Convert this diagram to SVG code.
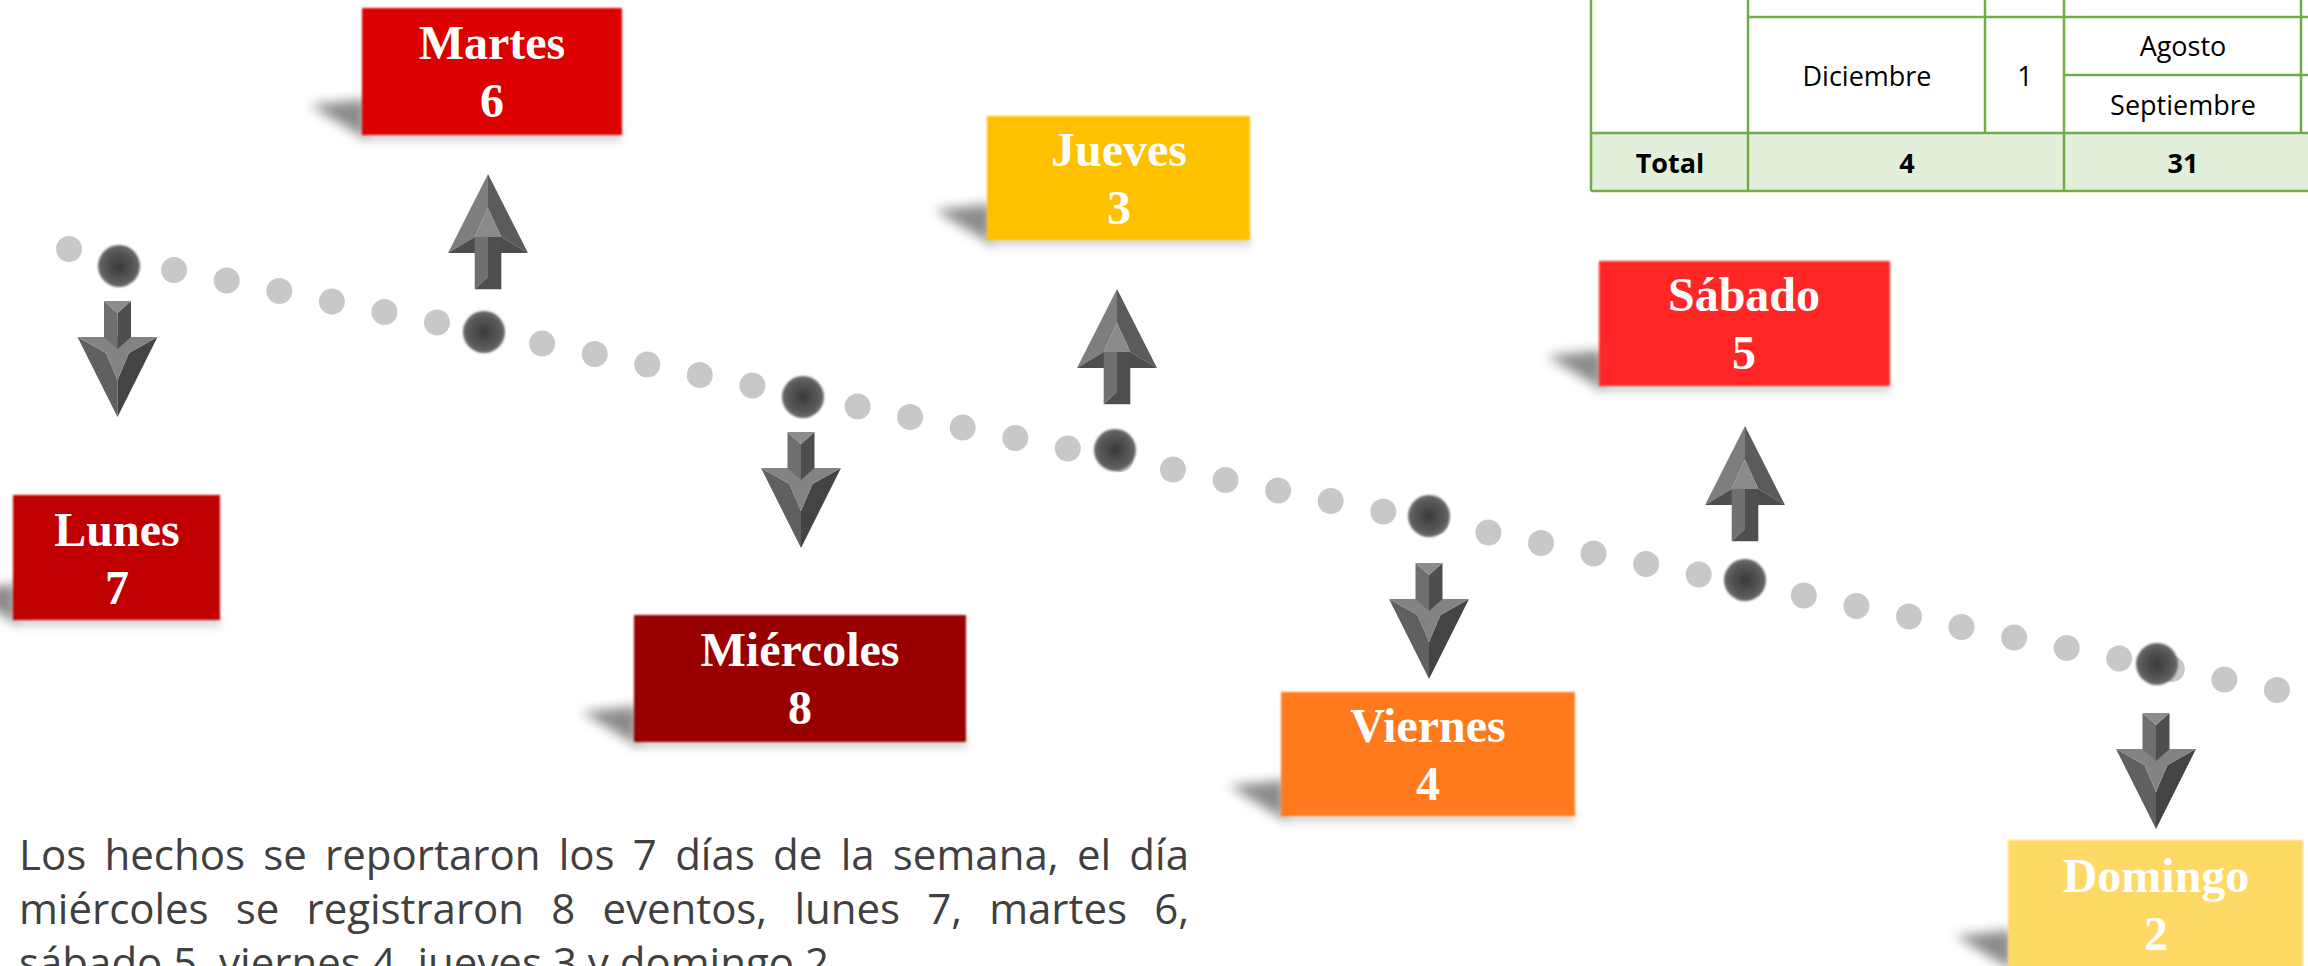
<svg xmlns="http://www.w3.org/2000/svg" xmlns:xlink="http://www.w3.org/1999/xlink" width="2308" height="966" viewBox="0 0 2308 966">
<style>
.box{filter:url(#soft)}
.lbl{font-family:"Liberation Serif","Times New Roman",serif;font-weight:bold;font-size:48px;fill:#ffffff;text-anchor:middle}
.shw{fill:#5a5a5a;opacity:0.7;filter:url(#blur6)}
.shw2{fill:#8a8a8a;opacity:0.35;filter:url(#blur4)}
.ld{fill:#c8c8c8}
.dd{fill:url(#dg);filter:url(#soft)}
.tl{stroke:#70ad47;stroke-width:2.5;fill:none}
.tt{font-family:"Open Sans","Liberation Sans",sans-serif;font-size:27px;fill:#000;text-anchor:middle}
.tb{font-weight:bold}
.body{font-family:"Open Sans","Liberation Sans",sans-serif;font-size:42px;fill:#404040}
</style>
<defs>
<filter id="soft" x="-10%" y="-10%" width="120%" height="120%"><feGaussianBlur stdDeviation="1"/></filter>
<filter id="blur6" x="-50%" y="-100%" width="200%" height="300%"><feGaussianBlur stdDeviation="6"/></filter>
<filter id="blur4" x="-10%" y="-200%" width="120%" height="500%"><feGaussianBlur stdDeviation="4"/></filter>
<radialGradient id="dg" cx="0.5" cy="0.5" r="0.5">
<stop offset="0" stop-color="#3a3a3a"/>
<stop offset="0.7" stop-color="#575757"/>
<stop offset="1" stop-color="#6a6a6a"/>
</radialGradient>
<g id="adown">
<polygon points="-40,36 -11.5,52 0,79 0,116" fill="#606060"/>
<polygon points="40,36 11.5,52 0,79 0,116" fill="#444444"/>
<polygon points="-40,36 40,36 11.5,52 0,79 -11.5,52" fill="#838383"/>
<polygon points="-13.5,0 0,12 0,48 -13.5,36" fill="#6f6f6f"/>
<polygon points="13.5,0 13.5,36 0,48 0,12" fill="#4e4e4e"/>
<polygon points="-13.5,0 13.5,0 0,12" fill="#8c8c8c"/>
</g>
<g id="aup">
<polygon points="-40,79 0,0 0,34 -13.3,63" fill="#7e7e7e"/>
<polygon points="40,79 0,0 0,34 13.3,63" fill="#5b5b5b"/>
<polygon points="-13.3,63 0,34 13.3,63" fill="#8a8a8a"/>
<polygon points="-40,79 -13.3,63 13.3,63 40,79" fill="#4d4d4d"/>
<polygon points="-13.3,63 0,63 0,102.7 -13.3,115.3" fill="#707070"/>
<polygon points="0,63 13.3,63 13.3,115.3 -13.3,115.3 0,102.7" fill="#4f4f4f"/>
</g>
</defs>
<rect width="2308" height="966" fill="#ffffff"/>

<g id="table">
<rect x="1591" y="133" width="717" height="58" fill="#e2efda"/>
<line class="tl" x1="1591" y1="0" x2="1591" y2="191"/>
<line class="tl" x1="1748" y1="0" x2="1748" y2="191"/>
<line class="tl" x1="1985" y1="0" x2="1985" y2="133"/>
<line class="tl" x1="2064" y1="0" x2="2064" y2="191"/>
<line class="tl" x1="2301" y1="0" x2="2301" y2="133"/>
<line class="tl" x1="1748" y1="17" x2="2308" y2="17"/>
<line class="tl" x1="2064" y1="75" x2="2308" y2="75"/>
<line class="tl" x1="1591" y1="133" x2="2308" y2="133"/>
<line class="tl" x1="1591" y1="191" x2="2308" y2="191"/>
<text class="tt" x="1867" y="86">Diciembre</text>
<text class="tt" x="2025" y="86">1</text>
<text class="tt" x="2183" y="56">Agosto</text>
<text class="tt" x="2183" y="115">Septiembre</text>
<text class="tt tb" x="1670" y="173">Total</text>
<text class="tt tb" x="1907" y="173">4</text>
<text class="tt tb" x="2183" y="173">31</text>
</g>

<g id="connectors">
<g id="dots-light">
<circle class="ld" cx="69" cy="249" r="13"/><circle class="ld" cx="121.6" cy="259.5" r="13"/><circle class="ld" cx="174.1" cy="270" r="13"/><circle class="ld" cx="226.7" cy="280.5" r="13"/><circle class="ld" cx="279.3" cy="291" r="13"/><circle class="ld" cx="331.9" cy="301.5" r="13"/><circle class="ld" cx="384.4" cy="312" r="13"/><circle class="ld" cx="437" cy="322.5" r="13"/><circle class="ld" cx="489.6" cy="333" r="13"/><circle class="ld" cx="542.1" cy="343.5" r="13"/><circle class="ld" cx="594.7" cy="354" r="13"/><circle class="ld" cx="647.3" cy="364.5" r="13"/><circle class="ld" cx="699.8" cy="375" r="13"/><circle class="ld" cx="752.4" cy="385.5" r="13"/><circle class="ld" cx="805" cy="396" r="13"/><circle class="ld" cx="857.6" cy="406.5" r="13"/><circle class="ld" cx="910.1" cy="417" r="13"/><circle class="ld" cx="962.7" cy="427.5" r="13"/><circle class="ld" cx="1015.3" cy="438" r="13"/><circle class="ld" cx="1067.8" cy="448.5" r="13"/><circle class="ld" cx="1120.4" cy="459" r="13"/><circle class="ld" cx="1173" cy="469.5" r="13"/><circle class="ld" cx="1225.5" cy="480" r="13"/><circle class="ld" cx="1278.1" cy="490.5" r="13"/><circle class="ld" cx="1330.7" cy="501" r="13"/><circle class="ld" cx="1383.3" cy="511.5" r="13"/><circle class="ld" cx="1435.8" cy="522" r="13"/><circle class="ld" cx="1488.4" cy="532.5" r="13"/><circle class="ld" cx="1541" cy="543" r="13"/><circle class="ld" cx="1593.5" cy="553.5" r="13"/><circle class="ld" cx="1646.1" cy="564" r="13"/><circle class="ld" cx="1698.7" cy="574.5" r="13"/><circle class="ld" cx="1751.2" cy="585" r="13"/><circle class="ld" cx="1803.8" cy="595.5" r="13"/><circle class="ld" cx="1856.4" cy="606" r="13"/><circle class="ld" cx="1909" cy="616.5" r="13"/><circle class="ld" cx="1961.5" cy="627" r="13"/><circle class="ld" cx="2014.1" cy="637.5" r="13"/><circle class="ld" cx="2066.7" cy="648" r="13"/><circle class="ld" cx="2119.2" cy="658.5" r="13"/><circle class="ld" cx="2171.8" cy="669" r="13"/><circle class="ld" cx="2224.4" cy="679.5" r="13"/><circle class="ld" cx="2277" cy="690" r="13"/>
</g>
<g id="dots-dark">
<circle class="dd" cx="119" cy="266" r="21"/>
<circle class="dd" cx="484" cy="332" r="21"/>
<circle class="dd" cx="803" cy="397" r="21"/>
<circle class="dd" cx="1115" cy="450" r="21"/>
<circle class="dd" cx="1429" cy="516" r="21"/>
<circle class="dd" cx="1745" cy="580" r="21"/>
<circle class="dd" cx="2157" cy="664" r="21"/>
</g>
<g id="arrows">
<use xlink:href="#adown" transform="translate(117.5,301)"/>
<use xlink:href="#aup" transform="translate(488,174)"/>
<use xlink:href="#adown" transform="translate(801,432)"/>
<use xlink:href="#aup" transform="translate(1117,289)"/>
<use xlink:href="#adown" transform="translate(1429,563)"/>
<use xlink:href="#aup" transform="translate(1745,426)"/>
<use xlink:href="#adown" transform="translate(2156,713)"/>
</g>
</g>

<g id="node-lunes">
<polygon class="shw" points="-39,590 17,584 17,624"/>
<rect class="shw2" x="13" y="614" width="207" height="12"/>
<rect class="box" x="13" y="495" width="207" height="125" fill="#c00000"/>
<text class="lbl" x="117" y="546">Lunes</text>
<text class="lbl" x="117" y="604">7</text>
</g>

<g id="node-martes">
<polygon class="shw" points="310,105 366,99 366,139"/>
<rect class="shw2" x="362" y="129" width="260" height="12"/>
<rect class="box" x="362" y="8" width="260" height="127" fill="#dd0000"/>
<text class="lbl" x="492" y="59">Martes</text>
<text class="lbl" x="492" y="117">6</text>
</g>

<g id="node-miercoles">
<polygon class="shw" points="582,712 638,706 638,746"/>
<rect class="shw2" x="634" y="736" width="332" height="12"/>
<rect class="box" x="634" y="615" width="332" height="127" fill="#990000"/>
<text class="lbl" x="800" y="666">Miércoles</text>
<text class="lbl" x="800" y="724">8</text>
</g>

<g id="node-jueves">
<polygon class="shw" points="935,210 991,204 991,244"/>
<rect class="shw2" x="987" y="234" width="263" height="12"/>
<rect class="box" x="987" y="116" width="263" height="124" fill="#ffc000"/>
<text class="lbl" x="1119" y="166">Jueves</text>
<text class="lbl" x="1119" y="224">3</text>
</g>

<g id="node-viernes">
<polygon class="shw" points="1229,786 1285,780 1285,820"/>
<rect class="shw2" x="1281" y="810" width="294" height="12"/>
<rect class="box" x="1281" y="692" width="294" height="124" fill="#ff7a1f"/>
<text class="lbl" x="1428" y="742">Viernes</text>
<text class="lbl" x="1428" y="800">4</text>
</g>

<g id="node-sabado">
<polygon class="shw" points="1547,356 1603,350 1603,390"/>
<rect class="shw2" x="1599" y="380" width="291" height="12"/>
<rect class="box" x="1599" y="261" width="291" height="125" fill="#ff2828"/>
<text class="lbl" x="1744" y="311">Sábado</text>
<text class="lbl" x="1744" y="369">5</text>
</g>

<g id="node-domingo">
<polygon class="shw" points="1956,936 2012,930 2012,970"/>
<rect class="box" x="2008" y="840" width="295" height="130" fill="#ffd966"/>
<text class="lbl" x="2156" y="892">Domingo</text>
<text class="lbl" x="2156" y="950">2</text>
</g>

<g id="body-text">
<text class="body" x="19" y="870" word-spacing="7.4" textLength="1170" lengthAdjust="spacing">Los hechos se reportaron los 7 días de la semana, el día</text>
<text class="body" x="19" y="924" word-spacing="16.3" textLength="1170" lengthAdjust="spacing">miércoles se registraron 8 eventos, lunes 7, martes 6,</text>
<text class="body" x="19" y="978">sábado 5, viernes 4, jueves 3 y domingo 2.</text>
</g>
</svg>
